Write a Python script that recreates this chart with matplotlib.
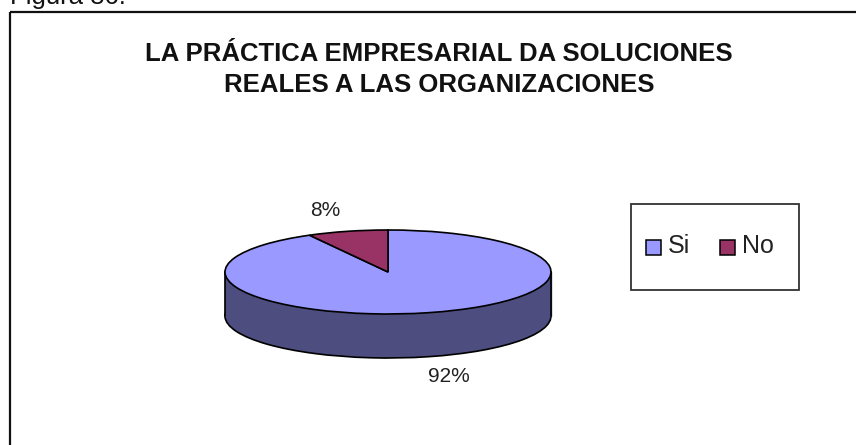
import numpy as np
import matplotlib
matplotlib.use('Agg')
import matplotlib.pyplot as plt
from matplotlib.patches import Rectangle

plt.rcParams['font.family'] = ['Liberation Sans', 'DejaVu Sans']

# datos de la figura
categorias = ['Si', 'No']
valores = [92, 8]
etiquetas = ['92%', '8%']
colores = ['#9999FF', '#993366']
color_lado = '#4D4D80'
titulo = 'LA PRÁCTICA EMPRESARIAL DA SOLUCIONES\nREALES A LAS ORGANIZACIONES'

W, H = 856, 445
fig = plt.figure(figsize=(W / 100, H / 100), dpi=100)

# capa en pixeles, y hacia abajo como la imagen
bg = fig.add_axes([0, 0, 1, 1])
bg.set_xlim(0, W)
bg.set_ylim(H, 0)
bg.axis('off')

# marco del grafico: el borde derecho e inferior quedan fuera de la imagen
bg.add_patch(Rectangle((10.5, 11.5), 860, 450, fill=False, ec='#111111', lw=1.6))

bg.text(10, 4, 'Figura 86:', fontsize=18.5, color='#111111', va='baseline', ha='left')
bg.text(439, 69.5, titulo, fontsize=18.5, fontweight='bold', color='#111111',
        ha='center', va='center', linespacing=1.37)

# torta: elipse con semiejes 163 x 42 px, centro (388, 272)
cx, cy, rx, ry, prof = 388, 272, 163, 42, 44
ax = fig.add_axes([(cx - rx) / W, 1 - (cy + ry) / H, 2 * rx / W, 2 * ry / H])

ax.pie(valores, colors=[color_lado, color_lado], startangle=90, counterclock=False, radius=1,
       center=(0, -prof / ry), wedgeprops=dict(edgecolor='black', linewidth=1.2, clip_on=False))
t = np.linspace(-1, 1, 2)
ax.fill_between(t, [-prof / ry, -prof / ry], [0, 0], color=color_lado, zorder=1.5, clip_on=False)
ax.plot([-1, -1], [0, -prof / ry], color='black', lw=1.2, zorder=1.6, clip_on=False)
ax.plot([1, 1], [0, -prof / ry], color='black', lw=1.2, zorder=1.6, clip_on=False)
ax.pie(valores, colors=colores, startangle=90, counterclock=False, radius=1,
       wedgeprops=dict(edgecolor='black', linewidth=1.2, zorder=2, clip_on=False))
ax.set_aspect('auto')
ax.set_xlim(-1, 1)
ax.set_ylim(-1, 1)
ax.axis('off')

bg.text(449, 377, etiquetas[0], fontsize=15, color='#222222', ha='center', va='center')
bg.text(325, 211, etiquetas[1], fontsize=15, color='#222222', ha='center', va='center')

# leyenda
bg.add_patch(Rectangle((631, 204), 168, 86, fc='white', ec='#333333', lw=1.3))
caja_x = [646.5, 720.5]
texto_x = [668, 742]
for i in range(2):
    bg.add_patch(Rectangle((caja_x[i], 239.5), 15, 15, fc=colores[i], ec='black', lw=1.1))
    bg.text(texto_x[i], 246, categorias[i], fontsize=18, color='#222222', ha='left', va='center')

fig.savefig('out.png', dpi=100)
